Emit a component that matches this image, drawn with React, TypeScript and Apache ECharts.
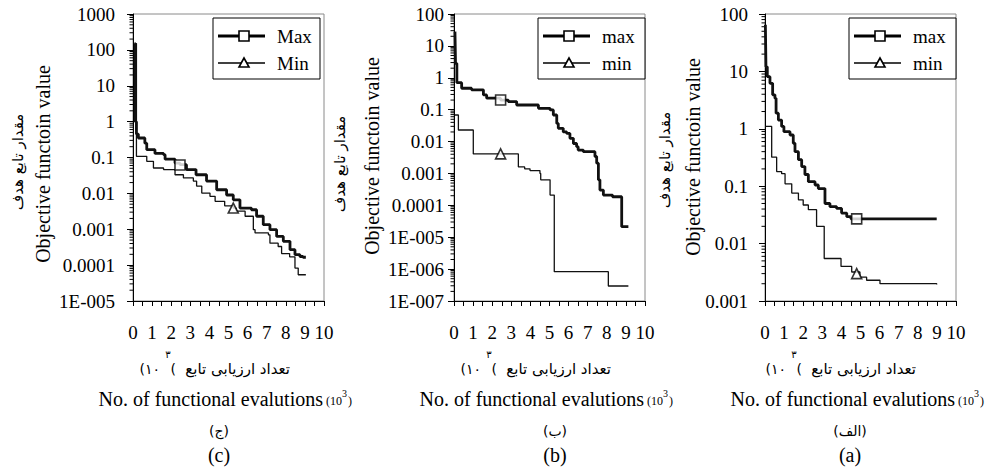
import React, { useEffect, useRef } from "react";
import * as echarts from "echarts";

// ---------- data (x in 10^3 evaluations, y objective value) ----------
// Panel (c)
const cMaxX = [0.08, 0.12, 0.18, 0.28, 0.62, 0.72, 1.15, 1.6, 1.68, 2.2, 2.46, 2.8, 3.3, 3.85, 4.38, 4.9, 5.25, 5.6, 6.2, 6.47, 6.82, 7.17, 7.52, 7.87, 8.22, 8.48, 8.74, 8.9, 9.05];
const cMaxY = [150, 1.0, 0.45, 0.35, 0.25, 0.165, 0.13, 0.12, 0.09, 0.07, 0.063, 0.046, 0.033, 0.022, 0.0126, 0.009, 0.0066, 0.0039, 0.0035, 0.0023, 0.00134, 0.00097, 0.00063, 0.00046, 0.00027, 0.000195, 0.000174, 0.000166, 0.000166];
const cMinX = [0.08, 0.18, 0.72, 1.07, 1.6, 2.2, 2.64, 3.16, 3.33, 3.6, 4.03, 4.3, 4.8, 5.25, 5.4, 5.87, 6.3, 6.39, 7.09, 7.17, 7.6, 7.78, 8.2, 8.48, 8.65, 9.05];
const cMinY = [150, 0.108, 0.078, 0.051, 0.046, 0.033, 0.027, 0.022, 0.016, 0.0102, 0.0083, 0.006, 0.0045, 0.0039, 0.0032, 0.0023, 0.00097, 0.00079, 0.0007, 0.00041, 0.00033, 0.00021, 0.00017, 0.000083, 0.000054, 0.000054];
const cMarkMax = [2.46, 0.062];
const cMarkMin = [5.25, 0.0039];

// Panel (b)
const bMaxX = [0.05, 0.08, 0.15, 0.4, 0.92, 1.54, 1.71, 2.44, 2.84, 3.28, 4.42, 5.03, 5.2, 5.38, 5.46, 5.72, 5.9, 6.07, 6.25, 6.42, 6.5, 6.77, 7.38, 7.47, 7.56, 7.64, 7.82, 8.3, 8.78, 9.13];
const bMaxY = [28, 2.8, 0.7, 0.47, 0.42, 0.29, 0.23, 0.2, 0.18, 0.14, 0.11, 0.098, 0.068, 0.037, 0.026, 0.02, 0.018, 0.0126, 0.0087, 0.0069, 0.0054, 0.0048, 0.0034, 0.0021, 0.00063, 0.0003, 0.00021, 0.000186, 0.0000214, 0.0000214];
const bMinX = [0.05, 0.23, 1.01, 3.37, 3.7, 3.98, 4.5, 4.54, 5.03, 5.25, 5.25, 8.08, 9.13];
const bMinY = [0.068, 0.023, 0.0041, 0.0016, 0.0014, 0.00123, 0.001, 0.00063, 0.00021, 0.000166, 8.3e-7, 2.95e-7, 2.95e-7];
const bMarkMax = [2.44, 0.2];
const bMarkMin = [2.44, 0.0041];

// Panel (a)
const aMaxX = [0.02, 0.05, 0.12, 0.26, 0.4, 0.52, 0.58, 0.7, 0.87, 0.99, 1.31, 1.48, 1.57, 1.75, 1.92, 2.09, 2.27, 2.62, 2.79, 3.14, 3.4, 3.75, 4.01, 4.28, 4.5, 8.99];
const aMaxY = [65, 12, 8.1, 6.2, 3.9, 3.4, 1.87, 1.42, 1.1, 0.89, 0.78, 0.56, 0.4, 0.29, 0.22, 0.16, 0.12, 0.105, 0.091, 0.05, 0.044, 0.041, 0.034, 0.0295, 0.027, 0.0268];
const aMinX = [0.02, 0.35, 0.61, 0.87, 1.05, 1.4, 1.75, 2.0, 2.27, 2.7, 3.1, 3.98, 4.54, 4.97, 5.32, 6.02, 8.99];
const aMinY = [1.1, 0.32, 0.18, 0.165, 0.11, 0.076, 0.058, 0.047, 0.039, 0.02, 0.0055, 0.004, 0.0032, 0.0026, 0.0023, 0.002, 0.00194];
const aMarkMax = [4.8, 0.027];
const aMarkMin = [4.8, 0.003];

// axis settings
const xMin = 0;
const xMax = 10;
const cYRange = [1e-5, 1000];
const bYRange = [1e-7, 100];
const aYRange = [1e-3, 100];
const logMinorFactors = [2, 3, 4, 5, 6, 7, 8, 9];

const cNames = ["Max", "Min"];
const bNames = ["max", "min"];
const aNames = ["max", "min"];
const letterFa = ["(ج)", "(ب)", "(الف)"];
const letterEn = ["(c)", "(b)", "(a)"];

const FONT = "'Liberation Serif', 'Times New Roman', serif";
const FA_FONT = "'DejaVu Sans', sans-serif";

function zip(xs: number[], ys: number[]) {
  return xs.map((x, i) => [x, ys[i]]);
}

function fmtLog(v: number) {
  const e = Math.round(Math.log10(v));
  if (e >= 0) return String(Math.round(Math.pow(10, e)));
  if (e >= -4) return Math.pow(10, e).toFixed(-e);
  return "1E-" + String(-e).padStart(3, "0");
}

function minorTicks(range: number[]) {
  const out: number[][] = [];
  const e0 = Math.round(Math.log10(range[0]));
  const e1 = Math.round(Math.log10(range[1]));
  for (let e = e0; e < e1; e++) {
    for (const f of logMinorFactors) out.push([0, f * Math.pow(10, e)]);
  }
  return out;
}

const panels = [
  { left: 133, yRange: cYRange, maxX: cMaxX, maxY: cMaxY, minX: cMinX, minY: cMinY, markMax: cMarkMax, markMin: cMarkMin, names: cNames, labelMargin: 18, yTitleEn: [43, 164], yTitleFa: [18, 162], dx: 0, faDx: 0, letterX: 219 },
  { left: 454, yRange: bYRange, maxX: bMaxX, maxY: bMaxY, minX: bMinX, minY: bMinY, markMax: bMarkMax, markMin: bMarkMin, names: bNames, labelMargin: 10, yTitleEn: [372, 156], yTitleFa: [340, 164], dx: 321, faDx: 0, letterX: 555 },
  { left: 765, yRange: aYRange, maxX: aMaxX, maxY: aMaxY, minX: aMinX, minY: aMinY, markMax: aMarkMax, markMin: aMarkMin, names: aNames, labelMargin: 17, yTitleEn: [693, 157], yTitleFa: [665, 160], dx: 632, faDx: -6, letterX: 850 },
];

const GRID_TOP = 14;
const GRID_H = 287;
const GRID_W = 191;

export default function App() {
  const ref = useRef<HTMLDivElement>(null);

  useEffect(() => {
    if (!ref.current) return;
    const chart = echarts.init(ref.current, undefined, { renderer: "svg" });

    const grid: any[] = [];
    const xAxis: any[] = [];
    const yAxis: any[] = [];
    const series: any[] = [];
    const graphic: any[] = [];

    panels.forEach((p, i) => {
      grid.push({ left: p.left, top: GRID_TOP, width: GRID_W, height: GRID_H, show: true, borderColor: "#8a8a8a", borderWidth: 1, backgroundColor: "transparent" });
      xAxis.push({
        type: "value", gridIndex: i, min: xMin, max: xMax, interval: 1,
        axisLine: { show: true, onZero: false, lineStyle: { color: "#000", width: 1 } },
        axisTick: { show: true, length: 5, lineStyle: { color: "#000", width: 1 } },
        minorTick: { show: true, splitNumber: 2, length: 5, lineStyle: { color: "#000", width: 1 } },
        splitLine: { show: false },
        axisLabel: { color: "#000", fontFamily: FONT, fontSize: 19, margin: 22 },
      });
      yAxis.push({
        type: "log", logBase: 10, gridIndex: i, min: p.yRange[0], max: p.yRange[1], splitNumber: 10,
        axisLine: { show: true, onZero: false, lineStyle: { color: "#000", width: 1 } },
        axisTick: { show: true, length: 6, lineStyle: { color: "#000", width: 1 } },
        splitLine: { show: false },
        axisLabel: { color: "#000", fontFamily: FONT, fontSize: 19, margin: p.labelMargin, formatter: (v: number) => fmtLog(v) },
      });
      series.push({
        type: "custom", xAxisIndex: i, yAxisIndex: i, silent: true, clip: false,
        data: minorTicks(p.yRange),
        renderItem: (params: any, api: any) => {
          const pt = api.coord([api.value(0), api.value(1)]);
          return { type: "line", shape: { x1: pt[0] - 3.5, y1: pt[1], x2: pt[0], y2: pt[1] }, style: { stroke: "#000", lineWidth: 1 } };
        },
      });
      series.push({
        type: "line", name: p.names[1], xAxisIndex: i, yAxisIndex: i, step: "end", symbol: "none",
        lineStyle: { color: "#111", width: 1.3 }, data: zip(p.minX, p.minY), z: 3,
      });
      series.push({
        type: "line", name: p.names[0], xAxisIndex: i, yAxisIndex: i, step: "end", symbol: "none",
        lineStyle: { color: "#111", width: 2.8 }, data: zip(p.maxX, p.maxY), z: 4,
      });
      series.push({
        type: "scatter", xAxisIndex: i, yAxisIndex: i, symbol: "rect", symbolSize: 10, z: 6,
        itemStyle: { color: "#fff", borderColor: "#000", borderWidth: 1.6 }, data: [p.markMax],
      });
      series.push({
        type: "scatter", xAxisIndex: i, yAxisIndex: i, symbol: "triangle", symbolSize: 10, z: 6,
        itemStyle: { color: "#fff", borderColor: "#000", borderWidth: 1.6 }, data: [p.markMin],
      });

      // legend box
      const L = p.left + (i === 0 ? 80 : 84);
      graphic.push({ type: "rect", z: 100, shape: { x: L, y: 18, width: 107, height: 61 }, style: { fill: "#fff", stroke: "#000", lineWidth: 1 } });
      graphic.push({ type: "line", z: 101, shape: { x1: L + 5, y1: 36, x2: L + 52, y2: 36 }, style: { stroke: "#000", lineWidth: 2.8 } });
      graphic.push({ type: "rect", z: 102, shape: { x: L + 26, y: 31, width: 10, height: 10 }, style: { fill: "#fff", stroke: "#000", lineWidth: 1.6 } });
      graphic.push({ type: "text", z: 102, x: L + 64, y: 36, style: { text: p.names[0], font: `19px ${FONT}`, fill: "#000", verticalAlign: "middle", align: "left" } });
      graphic.push({ type: "line", z: 101, shape: { x1: L + 5, y1: 63, x2: L + 52, y2: 63 }, style: { stroke: "#000", lineWidth: 1.3 } });
      graphic.push({ type: "polygon", z: 102, shape: { points: [[L + 31, 58], [L + 26, 67], [L + 36, 67]] }, style: { fill: "#fff", stroke: "#000", lineWidth: 1.6 } });
      graphic.push({ type: "text", z: 102, x: L + 64, y: 63, style: { text: p.names[1], font: `19px ${FONT}`, fill: "#000", verticalAlign: "middle", align: "left" } });

      // y titles
      graphic.push({ type: "text", x: p.yTitleEn[0], y: p.yTitleEn[1], rotation: Math.PI / 2, style: { text: "Objective functoin value", font: `20px ${FONT}`, fill: "#000", align: "center", verticalAlign: "middle" } });
      graphic.push({ type: "text", x: p.yTitleFa[0], y: p.yTitleFa[1], rotation: Math.PI / 2, style: { text: "مقدار تابع هدف", font: `15px ${FA_FONT}`, fill: "#000", align: "center", verticalAlign: "middle" } });

      // x titles
      const dx = p.dx + p.faDx;
      graphic.push({ type: "text", x: 290 + dx, y: 369, style: { text: "تعداد ارزیابی تابع", font: `15px ${FA_FONT}`, fill: "#000", align: "right", verticalAlign: "middle" } });
      graphic.push({ type: "text", x: 176 + dx, y: 369, style: { text: "(", font: `14px ${FA_FONT}`, fill: "#000", align: "right", verticalAlign: "middle" } });
      graphic.push({ type: "text", x: 168 + dx, y: 354, style: { text: "۳", font: `10px ${FA_FONT}`, fill: "#000", align: "center", verticalAlign: "middle" } });
      graphic.push({ type: "text", x: 160 + dx, y: 369, style: { text: "(۱۰", font: `14px ${FA_FONT}`, fill: "#000", align: "right", verticalAlign: "middle" } });

      graphic.push({ type: "text", x: 323 + p.dx, y: 399, style: { text: "No. of functional evalutions", font: `20px ${FONT}`, fill: "#000", align: "right", verticalAlign: "middle" } });
      graphic.push({ type: "text", x: 326 + p.dx, y: 401, style: { text: "(10", font: `12px ${FONT}`, fill: "#000", align: "left", verticalAlign: "middle" } });
      graphic.push({ type: "text", x: 342 + p.dx, y: 393, style: { text: "3", font: `10px ${FONT}`, fill: "#000", align: "left", verticalAlign: "middle" } });
      graphic.push({ type: "text", x: 348 + p.dx, y: 401, style: { text: ")", font: `12px ${FONT}`, fill: "#000", align: "left", verticalAlign: "middle" } });

      graphic.push({ type: "text", x: p.letterX, y: 431, style: { text: letterFa[i], font: `14px ${FA_FONT}`, fill: "#000", align: "center", verticalAlign: "middle" } });
      graphic.push({ type: "text", x: p.letterX, y: 455, style: { text: letterEn[i], font: `20px ${FONT}`, fill: "#000", align: "center", verticalAlign: "middle" } });
    });

    chart.setOption({
      animation: false,
      backgroundColor: "#fff",
      grid, xAxis, yAxis, series, graphic,
    });

    return () => chart.dispose();
  }, []);

  return <div ref={ref} style={{ position: "fixed", left: 0, top: 0, width: 994, height: 468 }} />;
}
